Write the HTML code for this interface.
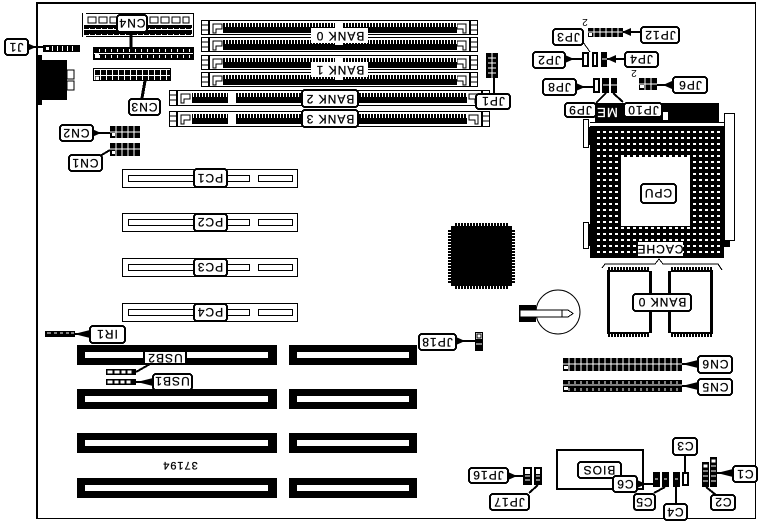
<!DOCTYPE html>
<html>
<head>
<meta charset="utf-8">
<style>
html,body{margin:0;padding:0;background:#fff;width:759px;height:524px;overflow:hidden}
svg{display:block;shape-rendering:crispEdges}
text{font-family:"Liberation Sans",sans-serif;font-size:12px;letter-spacing:1px;text-anchor:middle;fill:#000;stroke:#000;stroke-width:.25;shape-rendering:auto}
.f{fill:#fff;stroke:#000;stroke-width:2}
.n{fill:#fff;stroke:none}
.o{fill:#fff;stroke:#000;stroke-width:1}
.ln{fill:none;stroke:#000;stroke-width:2}
.th{fill:none;stroke:#000;stroke-width:1}
</style>
</head>
<body>
<svg width="759" height="524" viewBox="0 0 759 524" xmlns="http://www.w3.org/2000/svg">
<defs>
<pattern id="dots" patternUnits="userSpaceOnUse" x="597" y="131" width="6" height="6"><rect width="3" height="2" fill="#fff"/></pattern>
<pattern id="comb" patternUnits="userSpaceOnUse" x="0" y="0" width="3" height="4"><rect width="1" height="4" fill="#fff"/></pattern>
<pattern id="pin6" patternUnits="userSpaceOnUse" x="0" y="0" width="6" height="6"><rect x="0" y="0" width="5" height="5" fill="#000"/></pattern>
<pattern id="pin6b" patternUnits="userSpaceOnUse" x="0" y="0" width="6" height="6"><rect x="0" y="0" width="6" height="5" fill="#000"/><rect x="5" y="1" width="1" height="3" fill="#fff"/></pattern>
<g id="endL">
  <rect x="7" y="0" width="2" height="15" fill="#000"/>
  <path d="M0 5H7M0 10H7" class="th"/>
  <path d="M12 4H21V9H15V13H12Z" class="th" stroke-width="2"/>
</g>
<g id="simm">
  <rect x=".5" y=".5" width="276" height="14" class="o"/>
  <use href="#endL"/>
  <use href="#endL" transform="translate(277,0) scale(-1,1)"/>
  <rect x="22" y="3" width="234" height="10" fill="#000"/>
  <rect x="22" y="3" width="234" height="4" fill="url(#comb)"/>
  <rect x="134" y="3" width="8" height="5" fill="#fff"/>
</g>
<g id="bank">
  <rect x=".5" y=".5" width="320" height="15" class="o"/>
  <use href="#endL"/>
  <use href="#endL" transform="translate(321,0) scale(-1,1)"/>
  <rect x="23" y="3" width="36" height="10" fill="#000"/>
  <rect x="67" y="3" width="231" height="10" fill="#000"/>
  <rect x="23" y="3" width="36" height="4" fill="url(#comb)"/>
  <rect x="67" y="3" width="231" height="4" fill="url(#comb)"/>
</g>
<g id="pc">
  <rect x=".5" y=".5" width="175" height="18" class="o"/>
  <rect x="6.5" y="6.5" width="121" height="6" class="o"/>
  <rect x="136.5" y="6.5" width="34" height="6" class="o"/>
</g>
<g id="chipcomb">
  <rect x="0" y="0" width="48" height="70" fill="#000"/>
  <rect x="0" y="0" width="3" height="70" fill="#fff"/>
  <rect x="0" y="0" width="48" height="3" fill="url(#comb)"/>
  <rect x="0" y="67" width="48" height="3" fill="url(#comb)"/>
  <rect x="6" y="5" width="39" height="60" fill="#fff"/>
  <rect x="45" y="0" width="3" height="4" fill="#fff"/>
  <rect x="45" y="66" width="3" height="4" fill="#fff"/>
</g>
</defs>

<!-- board outline -->
<rect x="36" y="2" width="2" height="517" fill="#000"/>
<rect x="36" y="2" width="720" height="2" fill="#000"/>
<rect x="755" y="2" width="1" height="517" fill="#000"/>
<rect x="36" y="518" width="720" height="1" fill="#000"/>

<!-- rear connectors -->
<rect x="38" y="55" width="4" height="50" fill="#000"/>
<rect x="42" y="60" width="25" height="40" fill="#000"/>
<rect x="67" y="70" width="7" height="9" class="o"/>
<rect x="67" y="81" width="7" height="9" class="o"/>
<rect x="43" y="45" width="37" height="7" fill="#000"/>
<path d="M46 47h3v3h-3zM52 46h1v5h-1zM57 46h1v5h-1zM62 46h1v5h-1zM67 46h1v5h-1zM72 46h1v5h-1z" fill="#fff"/>

<!-- CN4 top connector -->
<rect x="82.5" y="13.5" width="111" height="23" class="o"/>
<rect x="83" y="13" width="3" height="24" fill="#fff"/>
<path d="M88 17h8v6h-8zM99 17h8v6h-8zM110 17h8v6h-8zM150 17h8v6h-8zM161 17h8v6h-8zM172 17h8v6h-8zM183 17h6v6h-6z" class="o"/>
<rect x="84" y="25" width="108" height="3" fill="#000"/>
<rect x="84" y="30" width="108" height="4" fill="#000"/>
<rect x="84" y="28" width="108" height="8" fill="url(#pin6)"/>
<!-- CN4 -->
<rect x="93.5" y="47.5" width="100" height="12" class="o"/>
<g transform="translate(94,48)"><rect width="99" height="11" fill="url(#pin6b)"/><rect x="1" y="6" width="4" height="4" fill="#fff"/></g>
<!-- CN3 -->
<rect x="93.5" y="68.5" width="77" height="12" class="o"/>
<g transform="translate(95,70)"><rect width="75" height="10" fill="url(#pin6)"/><rect x="0" y="6" width="4" height="4" fill="#fff" stroke="#000" stroke-width=".5"/></g>
<!-- CN2 / CN1 -->
<rect x="110" y="126" width="30" height="12" fill="#000"/>
<path d="M116 126v12M122 126v12M128 126v12M134 126v12M110 132h30" stroke="#fff"/>
<rect x="112" y="133" width="3" height="3" fill="#fff"/>
<rect x="110" y="143" width="30" height="13" fill="#000"/>
<path d="M116 143v13M122 143v13M128 143v13M134 143v13M110 149h30" stroke="#fff"/>
<rect x="112" y="151" width="3" height="3" fill="#fff"/>

<!-- SIMM -->
<use href="#simm" transform="translate(201,20)"/>
<use href="#simm" transform="translate(201,37)"/>
<use href="#simm" transform="translate(201,55)"/>
<use href="#simm" transform="translate(201,72)"/>
<use href="#bank" transform="translate(169,90)"/>
<use href="#bank" transform="translate(169,111)"/>

<!-- JP1 block -->
<rect x="486" y="53" width="12" height="25" fill="#000"/>
<path d="M488 58h8M488 63h8M488 68h8M488 73h8M492 53v25" stroke="#fff"/>

<!-- PC slots -->
<use href="#pc" transform="translate(122,169)"/>
<use href="#pc" transform="translate(122,213)"/>
<use href="#pc" transform="translate(122,258)"/>
<use href="#pc" transform="translate(122,303)"/>

<!-- CPU -->
<rect x="595" y="103" width="124" height="19" fill="#000"/>
<text transform="rotate(180 607 113)" x="607" y="118" style="fill:#fff;stroke:#fff;font-size:13px">ME</text>
<rect x="663" y="112" width="5" height="8" fill="#fff"/>
<rect x="724.5" y="113.5" width="10" height="127" class="o"/>
<rect x="590" y="126" width="134" height="132" fill="#000"/>
<rect x="596" y="123" width="123" height="2" fill="#fff"/>
<rect x="590" y="122" width="134" height="1" fill="#000"/>
<rect x="596" y="130" width="124" height="125" fill="url(#dots)"/>
<rect x="621" y="157" width="69" height="69" fill="#fff"/>
<rect x="724" y="240" width="6" height="7" fill="#000"/>
<rect x="583.5" y="119.5" width="5" height="28" class="o"/>
<rect x="583.5" y="222.5" width="5" height="26" class="o"/>
<rect x="589" y="127" width="2" height="18" fill="#000"/>
<rect x="589" y="224" width="2" height="22" fill="#000"/>

<!-- brace -->
<path d="M602 268L605 264H655L659 259L663 264H718L722 270" class="th"/>
<!-- cache chips -->
<use href="#chipcomb" transform="translate(604,267)"/>
<use href="#chipcomb" transform="translate(716,267) scale(-1,1)"/>

<!-- large QFP -->
<rect x="451" y="226" width="61" height="60" fill="#000"/>
<path d="M455 224.500H509M455 287.500H509" stroke="#000" stroke-width="3" stroke-dasharray="2 1" fill="none"/>
<path d="M449.500 230V283M513.500 230V283" stroke="#000" stroke-width="3" stroke-dasharray="2 1" fill="none"/>

<!-- battery -->
<circle cx="558" cy="312" r="22" fill="#fff" stroke="#000" stroke-width="1" style="shape-rendering:auto"/>
<rect x="519" y="305" width="17" height="17" fill="#000"/>
<path d="M520 310H568L573 313.500L568 317H520Z" fill="#fff" stroke="#000" stroke-width="1"/>
<path d="M562 310V317" stroke="#000"/>

<!-- JP18 -->
<rect x="475.500" y="332.500" width="7" height="18" class="o"/>
<rect x="477" y="334" width="4" height="4" class="o"/>
<rect x="476" y="339" width="6" height="11" fill="#000"/>
<path d="M476 344h6" stroke="#fff"/>

<!-- ISA slots -->
<g fill="#000">
<rect x="77" y="345" width="200" height="20"/><rect x="289" y="345" width="128" height="20"/>
<rect x="77" y="389" width="200" height="20"/><rect x="289" y="389" width="128" height="20"/>
<rect x="77" y="433" width="200" height="20"/><rect x="289" y="433" width="128" height="20"/>
<rect x="77" y="478" width="200" height="20"/><rect x="289" y="478" width="128" height="20"/>
</g>
<g fill="#fff">
<rect x="85" y="352" width="183" height="6"/><rect x="297" y="352" width="112" height="6"/>
<rect x="85" y="396" width="183" height="6"/><rect x="297" y="396" width="112" height="6"/>
<rect x="85" y="440" width="183" height="6"/><rect x="297" y="440" width="112" height="6"/>
<rect x="85" y="485" width="183" height="6"/><rect x="297" y="485" width="112" height="6"/>
</g>
<text transform="rotate(180 180 466)" x="180" y="470" style="font-size:11px">37194</text>

<!-- small headers -->
<g fill="#000">
<rect x="45" y="331" width="30" height="6"/><rect x="106" y="369" width="30" height="6"/><rect x="106" y="379" width="30" height="6"/>
</g>
<path d="M47 333h4M54 333h3M60 333h3M66 333h3M71 333h3M108 371h4v2h-4zM115 371h4v2h-4zM122 371h3v2h-3zM128 371h3v2h-3zM108 381h4v2h-4zM115 381h3v2h-3zM121 381h3v2h-3zM127 381h3v2h-3z" stroke="#fff" fill="#fff" stroke-width="1"/>

<!-- CN6 / CN5 -->
<rect x="563" y="358" width="119" height="13" fill="#000"/>
<path d="M569 358v13M575 358v13M581 358v13M587 358v13M593 358v13M599 358v13M605 358v13M611 358v13M617 358v13M623 358v13M629 358v13M635 358v13M641 358v13M647 358v13M653 358v13M659 358v13M665 358v13M671 358v13M677 358v13M563 364h119" stroke="#fff"/>
<rect x="564" y="366" width="4" height="3" fill="#fff"/>
<rect x="563" y="380" width="119" height="12" fill="#000"/>
<path d="M569 381v3M575 381v3M581 381v3M587 381v3M593 381v3M599 381v3M605 381v3M611 381v3M617 381v3M623 381v3M629 381v3M635 381v3M641 381v3M647 381v3M653 381v3M659 381v3M665 381v3M671 381v3M677 381v3M569 388v3M575 388v3M581 388v3M587 388v3M593 388v3M599 388v3M605 388v3M611 388v3M617 388v3M623 388v3M629 388v3M635 388v3M641 388v3M647 388v3M653 388v3M659 388v3M665 388v3M671 388v3M677 388v3M563 385h119" stroke="#fff"/>
<rect x="564" y="387" width="4" height="3" fill="#fff"/>

<!-- BIOS -->
<rect x="557" y="450" width="86" height="39" fill="#fff" stroke="#000" stroke-width="2"/>

<!-- JP16/17 -->
<rect x="523" y="467" width="9" height="18" fill="#000"/>
<rect x="525" y="469" width="5" height="5" fill="#fff"/><path d="M525 476h5M525 480h5" stroke="#fff"/>
<rect x="534" y="467" width="8" height="18" fill="#000"/>
<rect x="536" y="469" width="4" height="5" fill="#fff"/><path d="M536 476h4M536 480h4" stroke="#fff"/>

<!-- C blocks -->
<g fill="#000">
<rect x="653" y="472" width="7" height="15"/><rect x="662" y="472" width="7" height="15"/><rect x="673" y="472" width="7" height="15"/><rect x="682" y="472" width="7" height="14"/>
<rect x="702" y="462" width="7" height="25"/><rect x="710" y="457" width="7" height="30"/>
</g>
<path d="M655 479h3M664 479h3M675 479h3" stroke="#fff"/>
<rect x="684" y="474" width="3" height="10" fill="#fff"/>
<path d="M704 465h3v2h-3zM712 460h3v2h-3z" fill="#fff" stroke="#fff"/>
<path d="M703 471h5M703 476h5M703 481h5M711 466h5M711 471h5M711 476h5M711 481h5" stroke="#fff"/>

<!-- JP top headers -->
<rect x="588" y="28" width="35" height="9" fill="#000"/>
<path d="M594 28v9M600 28v9M606 28v9M612 28v9M618 28v9M588 32h35" stroke="#fff"/>
<rect x="589" y="33" width="3" height="3" fill="#fff"/>
<g fill="#000"><rect x="582" y="52" width="7" height="15"/><rect x="592" y="52" width="6" height="15"/><rect x="601" y="52" width="6" height="15"/>
<rect x="593" y="78" width="7" height="15"/><rect x="602" y="78" width="7" height="15"/><rect x="611" y="78" width="6" height="15"/>
<rect x="639" y="78" width="18" height="12"/></g>
<rect x="584" y="54" width="3" height="11" fill="#fff"/><rect x="594" y="54" width="2" height="11" fill="#fff"/><path d="M602 59h5" stroke="#fff"/>
<rect x="595" y="80" width="3" height="11" fill="#fff"/><path d="M603 85h6M611 85h6" stroke="#fff"/>
<path d="M645 78v12M651 78v12M639 84h18" stroke="#fff"/><rect x="640" y="85" width="4" height="3" fill="#fff"/>
<text transform="rotate(180 585 23)" x="585" y="27" style="font-size:10px;letter-spacing:0;stroke-width:0">2</text>
<text transform="rotate(180 634 74)" x="634" y="78" style="font-size:10px;letter-spacing:0;stroke-width:0">2</text>

<!-- leaders -->
<g class="ln" fill="none" stroke="#000" stroke-width="2">
<path d="M28 47H43" fill="none"/><path d="M131 32V47" stroke-width="3"/>
<path d="M145 81L142 98" stroke-width="3"/><path d="M93 133H110"/><path d="M100 156L110 150"/>
<path d="M494 78V93"/><path d="M583 42L590 52" stroke-width="1"/>
<path d="M623 32H640"/><path d="M565 59H582"/><path d="M607 59H624"/><path d="M576 87H593"/>
<path d="M657 85H672"/><path d="M596 103L606 93"/><path d="M623 102L613 93"/>
<path d="M75 334H89"/><path d="M136 372L150 364"/><path d="M136 382H152"/>
<path d="M682 364H697"/><path d="M682 386H697"/><path d="M456 341H475"/>
<path d="M508 476H523"/><path d="M529 493L538 485"/>
<path d="M637 484H653"/><path d="M654 493L665 487"/><path d="M676 487V503"/>
<path d="M685 455V472"/><path d="M716 495L706 487"/><path d="M732 473H717"/>
</g>
<!-- leader wedges -->
<g fill="#000" style="shape-rendering:auto">
<path d="M27 43V51L36 47ZM92 129V137L101 133ZM622 32L631 28V36ZM565 55V63L574 59ZM607 59L616 55V63ZM576 83V91L585 87Z"/>
<path d="M663 85L672 81V89ZM74 334L90 330V338ZM682 364L698 360V368ZM682 386L698 382V390ZM456 337V345L465 341Z"/>
<path d="M508 472V480L517 476ZM137 382L153 378V386ZM637 480V488L646 484ZM717 473L733 469V477Z"/>
</g>

<!-- Labels -->
<g>
<rect class="f" x="5" y="39" width="23" height="16" rx="3"/><text transform="rotate(180 16 47)" x="16" y="51">J1</text>
<rect class="f" x="117" y="15" width="30" height="17" rx="3"/><text transform="rotate(180 132 23)" x="132" y="27">CN4</text>
<rect class="f" x="129" y="99" width="31" height="16" rx="3"/><text transform="rotate(180 144 107)" x="144" y="111">CN3</text>
<rect class="f" x="60" y="125" width="33" height="16" rx="3"/><text transform="rotate(180 76 133)" x="76" y="137">CN2</text>
<rect class="f" x="69" y="155" width="33" height="16" rx="3"/><text transform="rotate(180 85 163)" x="85" y="167">CN1</text>
<rect class="n" x="311" y="28" width="57" height="15"/><text transform="rotate(180 340 36)" x="340" y="40">BANK 0</text>
<rect class="n" x="311" y="62" width="57" height="15"/><text transform="rotate(180 340 70)" x="340" y="74">BANK 1</text>
<rect class="f" x="302" y="90" width="56" height="17" rx="3"/><text transform="rotate(180 330 99)" x="330" y="103">BANK 2</text>
<rect class="f" x="302" y="110" width="56" height="17" rx="3"/><text transform="rotate(180 330 119)" x="330" y="123">BANK 3</text>
<rect class="f" x="476" y="94" width="34" height="15" rx="3"/><text transform="rotate(180 493 101)" x="493" y="105">JP1</text>
<rect class="f" x="553" y="29" width="30" height="16" rx="3"/><text transform="rotate(180 568 37)" x="568" y="41">JP3</text>
<rect class="f" x="641" y="27" width="38" height="16" rx="3"/><text transform="rotate(180 660 35)" x="660" y="39">JP12</text>
<rect class="f" x="533" y="52" width="32" height="16" rx="3"/><text transform="rotate(180 549 60)" x="549" y="64">JP2</text>
<rect class="f" x="625" y="52" width="33" height="15" rx="3"/><text transform="rotate(180 641 59)" x="641" y="63">JP4</text>
<rect class="f" x="543" y="79" width="33" height="16" rx="3"/><text transform="rotate(180 559 87)" x="559" y="91">JP8</text>
<rect class="f" x="673" y="77" width="34" height="16" rx="3"/><text transform="rotate(180 690 85)" x="690" y="89">JP6</text>
<rect class="f" x="565" y="103" width="31" height="14" rx="3"/><text transform="rotate(180 580 110)" x="580" y="114">JP9</text>
<rect class="f" x="624" y="103" width="38" height="14" rx="3"/><text transform="rotate(180 643 110)" x="643" y="114">JP10</text>
<rect class="f" x="641" y="184" width="35" height="19" rx="3"/><text transform="rotate(180 658 193)" x="658" y="197">CPU</text>
<rect class="n" x="638" y="242" width="45" height="14"/><text transform="rotate(180 660 249)" x="660" y="253">CACHE</text>
<rect class="f" x="633" y="294" width="58" height="17" rx="3"/><text transform="rotate(180 662 302)" x="662" y="306">BANK 0</text>
<rect class="f" x="194" y="169" width="33" height="18" rx="3"/><text transform="rotate(180 210 178)" x="210" y="182">PC1</text>
<rect class="f" x="194" y="214" width="33" height="17" rx="3"/><text transform="rotate(180 210 222)" x="210" y="226">PC2</text>
<rect class="f" x="194" y="259" width="33" height="17" rx="3"/><text transform="rotate(180 210 267)" x="210" y="271">PC3</text>
<rect class="f" x="194" y="304" width="33" height="17" rx="3"/><text transform="rotate(180 210 312)" x="210" y="316">PC4</text>
<rect class="f" x="419" y="334" width="37" height="16" rx="3"/><text transform="rotate(180 437 342)" x="437" y="346">JP18</text>
<rect class="f" x="90" y="326" width="35" height="17" rx="3"/><text transform="rotate(180 107 334)" x="107" y="338">IR1</text>
<rect class="f" x="144" y="351" width="42" height="13"/><text transform="rotate(180 165 358)" x="165" y="362">USB2</text>
<rect class="f" x="153" y="374" width="39" height="16" rx="3"/><text transform="rotate(180 172 381)" x="172" y="385">USB1</text>
<rect class="f" x="698" y="356" width="34" height="17" rx="3"/><text transform="rotate(180 715 364)" x="715" y="368">CN6</text>
<rect class="f" x="698" y="379" width="34" height="16" rx="3"/><text transform="rotate(180 715 387)" x="715" y="391">CN5</text>
<rect class="f" x="469" y="468" width="39" height="15" rx="3"/><text transform="rotate(180 488 475)" x="488" y="479">JP16</text>
<rect class="f" x="490" y="494" width="39" height="16" rx="3"/><text transform="rotate(180 509 502)" x="509" y="506">JP17</text>
<rect class="f" x="578" y="462" width="43" height="16" rx="3"/><text transform="rotate(180 599 470)" x="599" y="474">BIOS</text>
<rect class="f" x="613" y="476" width="24" height="16" rx="3"/><text transform="rotate(180 625 484)" x="625" y="488">C6</text>
<rect class="f" x="634" y="494" width="21" height="16" rx="3"/><text transform="rotate(180 644 502)" x="644" y="506">C5</text>
<rect class="f" x="664" y="504" width="23" height="16" rx="3"/><text transform="rotate(180 675 512)" x="675" y="516">C4</text>
<rect class="f" x="673" y="438" width="24" height="17" rx="3"/><text transform="rotate(180 685 446)" x="685" y="450">C3</text>
<rect class="f" x="711" y="495" width="24" height="15" rx="3"/><text transform="rotate(180 723 502)" x="723" y="506">C2</text>
<rect class="f" x="733" y="466" width="24" height="16" rx="3"/><text transform="rotate(180 745 474)" x="745" y="478">C1</text>
</g>
</svg>
</body>
</html>
